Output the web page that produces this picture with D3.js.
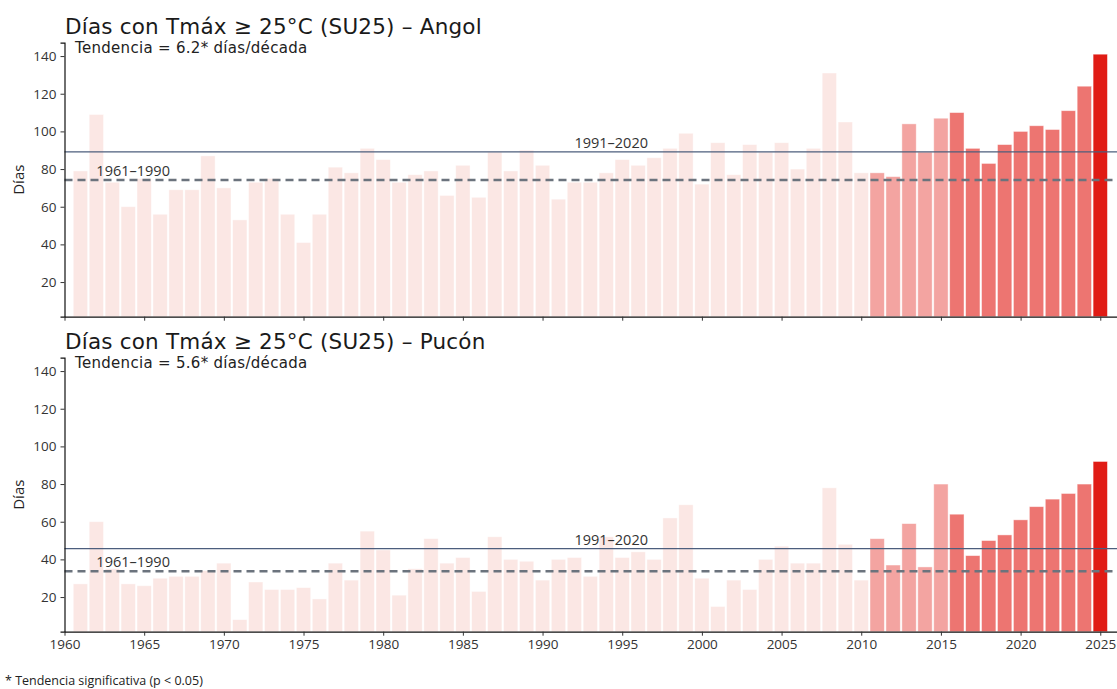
<!DOCTYPE html>
<html>
<head>
<meta charset="utf-8">
<script src="https://cdn.jsdelivr.net/npm/d3@7"></script>
<style>
  html, body { margin: 0; padding: 0; background: #fff; }
  svg { display: block; font-family: "Open Sans", "Noto Sans", sans-serif; }
  .wide { font-family: "DejaVu Sans", Verdana, sans-serif; }
</style>
</head>
<body>
<svg id="chart" width="1117" height="689"></svg>
<script>
// Annual count of days with Tmax >= 25 °C, 1961–2025
const years = d3.range(1961, 2026);

const angolDays = [
  79, 109, 73, 60, 75, 56, 69, 69, 87, 70,
  53, 73, 75, 56, 41, 56, 81, 78, 91, 85,
  73, 77, 79, 66, 82, 65, 89, 79, 90, 82,
  64, 73, 73, 78, 85, 82, 86, 91, 99, 72,
  94, 77, 93, 89, 94, 80, 91, 131, 105, 78,
  78, 76, 104, 89, 107, 110, 91, 83, 93, 100,
  103, 101, 111, 124, 141
];

const puconDays = [
  27, 60, 35, 27, 26, 30, 31, 31, 34, 38,
  8, 28, 24, 24, 25, 19, 38, 29, 55, 45,
  21, 35, 51, 38, 41, 23, 52, 40, 39, 29,
  40, 41, 31, 52, 41, 44, 40, 62, 69, 30,
  15, 29, 24, 40, 47, 38, 38, 78, 48, 29,
  51, 37, 59, 36, 80, 64, 42, 50, 53, 61,
  68, 72, 75, 80, 92
];

// Reference-period means
const stations = ["Angol", "Pucón"];
const trends = ["6.2*", "5.6*"];
const normal6190 = [74.2, 33.7];
const normal9120 = [89.1, 45.7];
const seriesList = [angolDays, puconDays];

const yTicks = [20, 40, 60, 80, 100, 120, 140];
const xTicks = d3.range(1960, 2026, 5);

const svg = d3.select("#chart");

const x = d3.scaleLinear().domain([1960, 2026.05]).range([64.5, 1117]);
const y = d3.scaleLinear().domain([1.6, 147.1]).range([316.7, 42.7]);
const barW = (x(1961) - x(1960)) * 0.9;

function barColor(yr) {
  if (yr === 2025) return "#e01c15";
  if (yr >= 2016) return "#ed7571";
  if (yr >= 2011) return "#f3a4a1";
  return "#fbe7e4";
}

const panelOffset = 315;
const textGrey = "#333";

stations.forEach((name, i) => {
  const g = svg.append("g").attr("transform", `translate(0,${i * panelOffset})`);
  const vals = seriesList[i];

  // Bars
  g.append("g").selectAll("rect")
    .data(years.map((yr, k) => ({ yr, v: vals[k] })))
    .join("rect")
    .attr("x", d => x(d.yr) - barW / 2)
    .attr("width", barW)
    .attr("y", d => y(d.v))
    .attr("height", d => y(y.domain()[0]) - y(d.v))
    .attr("fill", d => barColor(d.yr))
    .attr("stroke", "#fff")
    .attr("stroke-opacity", 0.55)
    .attr("stroke-width", 0.8);

  // Reference lines
  g.append("line")
    .attr("x1", x(1960)).attr("x2", x(2026.05))
    .attr("y1", y(normal9120[i])).attr("y2", y(normal9120[i]))
    .attr("stroke", "#4c5e7d").attr("stroke-width", 1.4);
  g.append("line")
    .attr("x1", x(1960)).attr("x2", x(2026.05))
    .attr("y1", y(normal6190[i])).attr("y2", y(normal6190[i]))
    .attr("stroke", "#6b737d").attr("stroke-width", 2.4)
    .attr("stroke-dasharray", "8,5");

  g.append("text")
    .attr("x", x(1962)).attr("y", y(normal6190[i]) - 4)
    .attr("font-size", 14.5).attr("fill", textGrey)
    .text("1961–1990");
  g.append("text")
    .attr("x", x(1992)).attr("y", y(normal9120[i]) - 4)
    .attr("font-size", 14.5).attr("fill", textGrey)
    .text("1991–2020");

  // Axes
  const yAxis = g.append("g")
    .attr("transform", `translate(${x(1960)},0)`)
    .call(d3.axisLeft(y).tickValues(yTicks).tickSize(4).tickPadding(4));
  yAxis.selectAll("text").attr("font-size", 13.5).attr("fill", textGrey).attr("font-family", "'Open Sans', sans-serif");
  yAxis.selectAll(".tick line").attr("stroke", "#333");
  yAxis.select(".domain").attr("stroke", "#111").attr("stroke-width", 1.2);

  const xAxis = g.append("g")
    .attr("transform", `translate(0,${y(y.domain()[0])})`)
    .call(d3.axisBottom(x).tickValues(xTicks).tickFormat(i === 1 ? d3.format("d") : () => "")
      .tickSize(4).tickPadding(4).tickSizeOuter(0));
  xAxis.selectAll("text").attr("font-size", 13.5).attr("fill", textGrey).attr("font-family", "'Open Sans', sans-serif");
  xAxis.selectAll(".tick line").attr("stroke", "#333");
  xAxis.select(".domain").attr("stroke", "#111").attr("stroke-width", 1.2);

  // Labels
  g.append("text")
    .attr("transform", `translate(24,${(y.range()[0] + y.range()[1]) / 2}) rotate(-90)`)
    .attr("text-anchor", "middle")
    .attr("font-size", 15).attr("fill", "#222")
    .text("Días");

  g.append("text")
    .attr("class", "wide")
    .attr("x", 65).attr("y", 34)
    .attr("font-size", 21.5).attr("letter-spacing", 0.2).attr("fill", "#1a1a1a")
    .text(`Días con Tmáx ≥ 25°C (SU25) – ${name}`);

  g.append("text")
    .attr("class", "wide")
    .attr("x", 75).attr("y", 53)
    .attr("font-size", 15).attr("letter-spacing", 0.3).attr("fill", "#222")
    .text(`Tendencia = ${trends[i]} días/década`);
});

svg.append("text")
  .attr("x", 5).attr("y", 684.5)
  .attr("font-size", 12.5).attr("fill", "#222")
  .text("* Tendencia significativa (p < 0.05)");
</script>
</body>
</html>
